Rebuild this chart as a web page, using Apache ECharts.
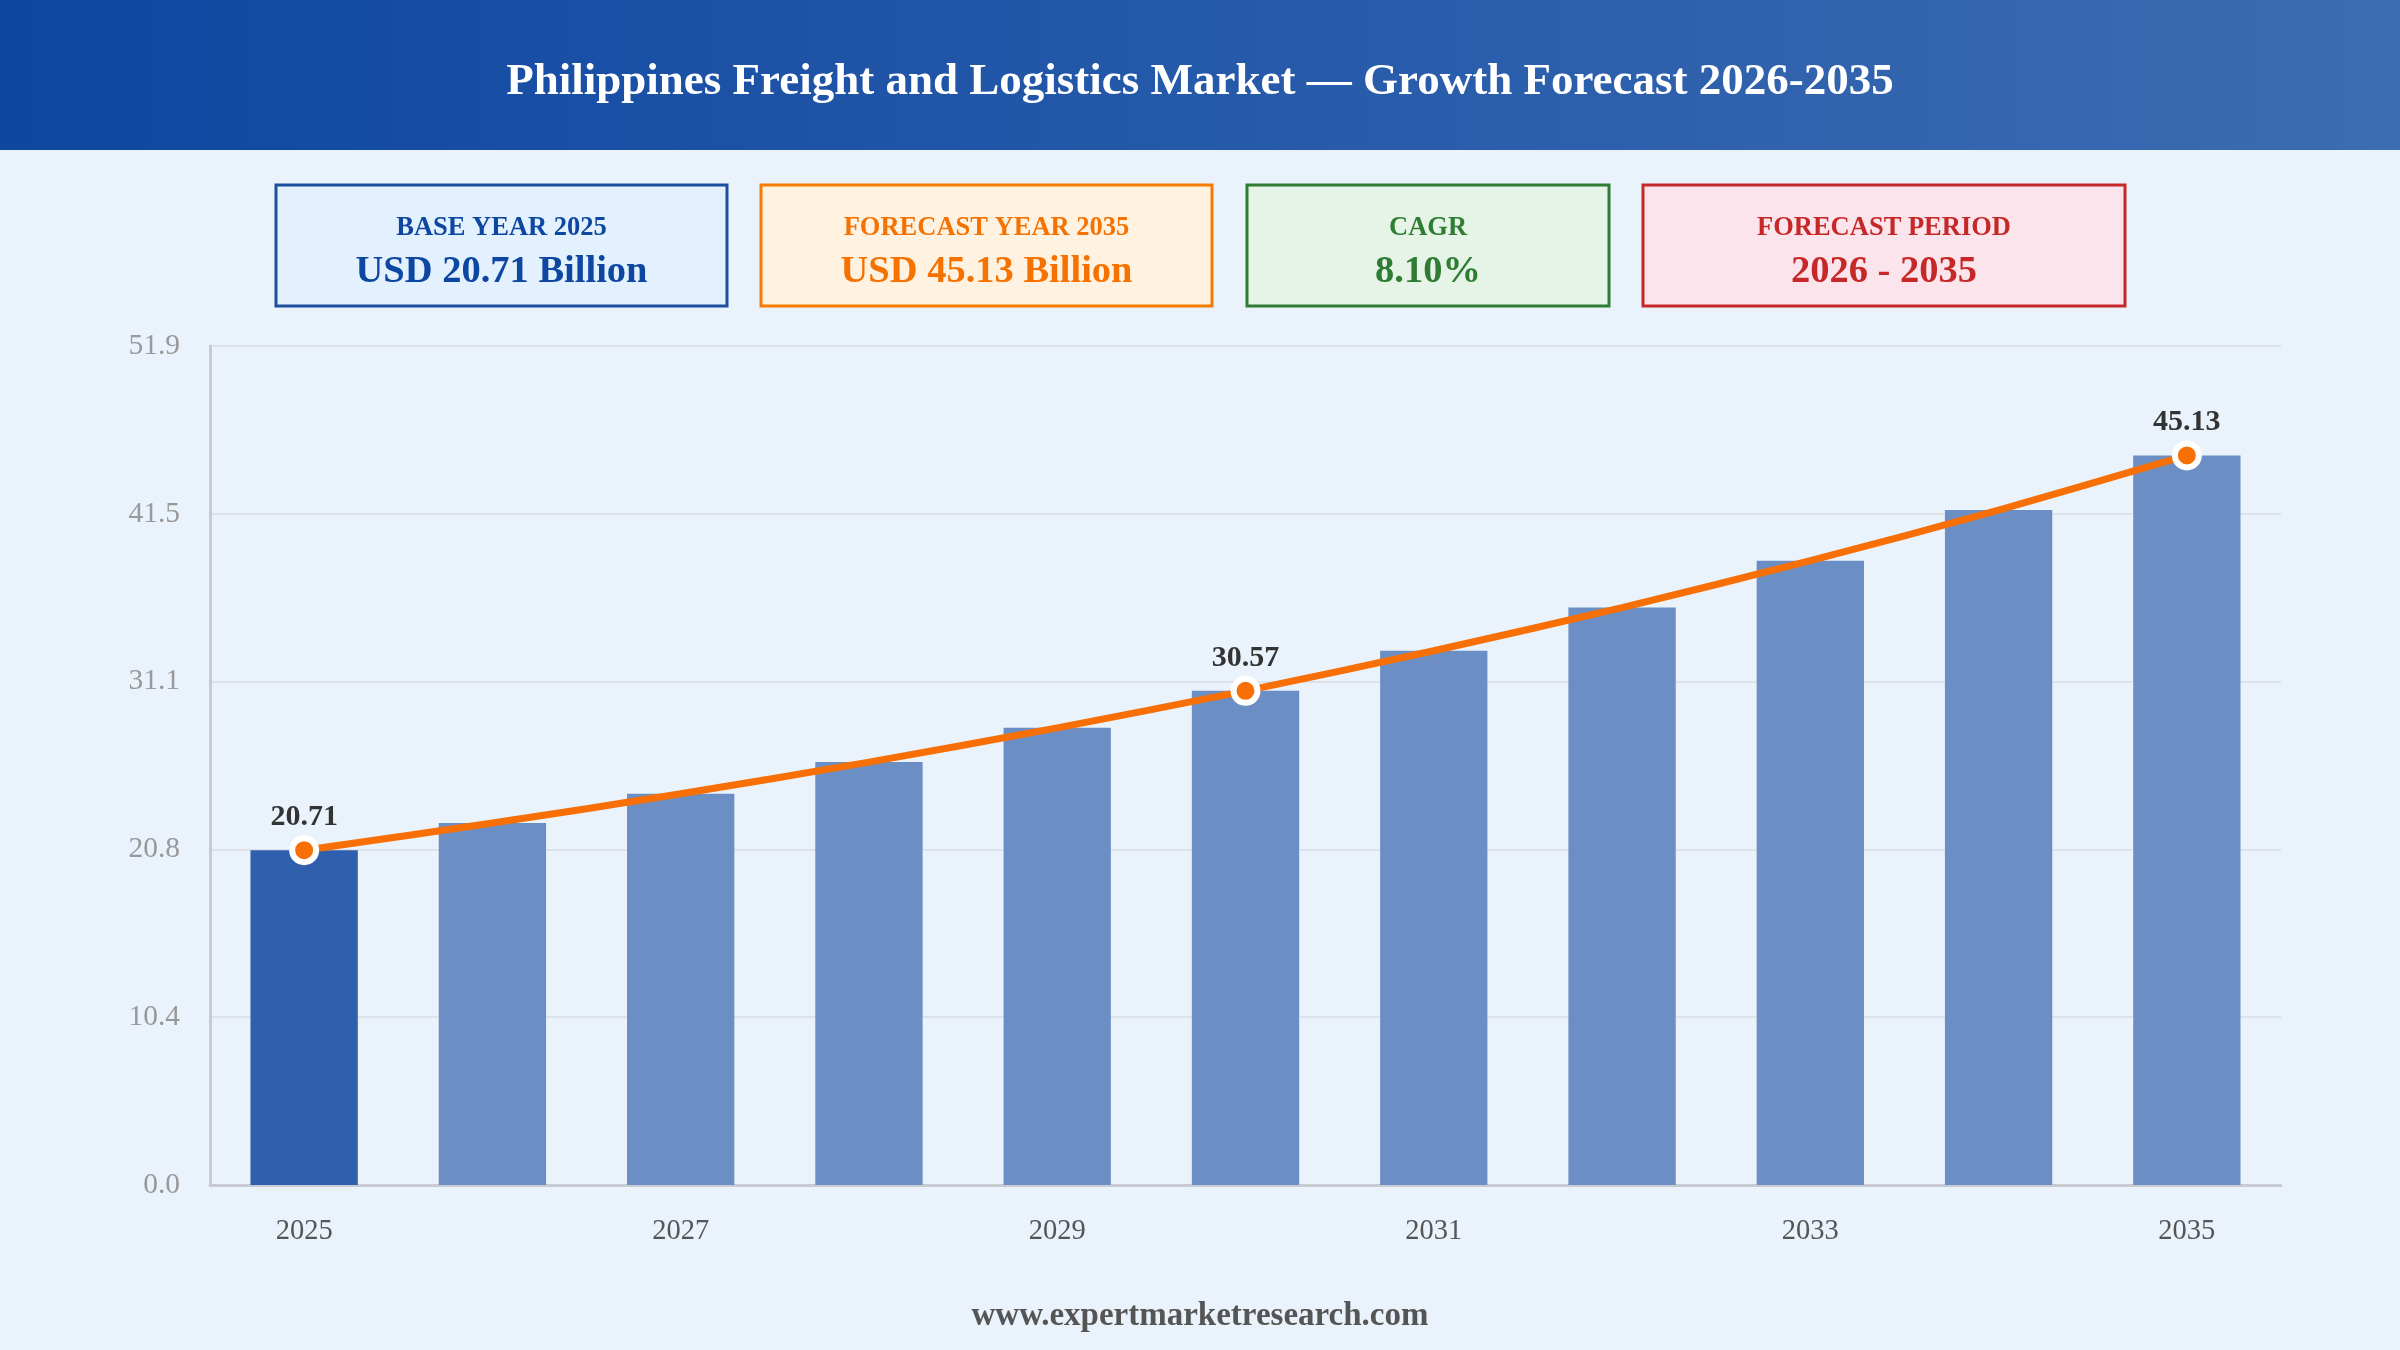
<!DOCTYPE html>
<html>
<head>
<meta charset="utf-8">
<script src="https://cdn.jsdelivr.net/npm/echarts@6/dist/echarts.min.js"></script>
<style>
html,body{margin:0;padding:0;background:#eaf2fc;}
#c{width:2400px;height:1350px;}
</style>
</head>
<body>
<div id="c"></div>
<script>
const categories = ['2025','2026','2027','2028','2029','2030','2031','2032','2033','2034','2035'];
const marketValues = [20.71, 22.39, 24.20, 26.16, 28.28, 30.57, 33.05, 35.72, 38.62, 41.75, 45.13];
const labelledIndices = [0, 5, 10];
const yTickLabels = ['0.0','10.4','20.8','31.1','41.5','51.9'];
const yMax = 51.9;
const titleText = 'Philippines Freight and Logistics Market \u2014 Growth Forecast 2026-2035';
const kpiLabels = ['BASE YEAR 2025','FORECAST YEAR 2035','CAGR','FORECAST PERIOD'];
const kpiValues = ['USD 20.71 Billion','USD 45.13 Billion','8.10%','2026 - 2035'];
const footerText = 'www.expertmarketresearch.com';

const SERIF = '"Times New Roman", "Liberation Serif", serif';
const kpiStyles = [
  {x:276, w:451, border:'#1c4f9e', fill:'#e3f0fd', color:'#0d47a1'},
  {x:761, w:451, border:'#f57c00', fill:'#fff2e0', color:'#f57200'},
  {x:1247, w:362, border:'#2e7d32', fill:'#e6f4e8', color:'#2e7d32'},
  {x:1643, w:482, border:'#c62828', fill:'#fbe4ec', color:'#c62828'}
];

const chart = echarts.init(document.getElementById('c'));

const graphics = [
  {type:'rect', left:0, top:0, z:0, shape:{width:2400, height:150},
   style:{fill:new echarts.graphic.LinearGradient(0,0,1,0,[{offset:0,color:'#0e46a0'},{offset:1,color:'#3c6cb2'}])}},
  {type:'text', x:1200, y:82, z:1, style:{text:titleText, fill:'#ffffff', font:'bold 45px ' + SERIF, textAlign:'center', textVerticalAlign:'middle'}},
  {type:'text', x:1200, y:1316, z:1, style:{text:footerText, fill:'#555555', font:'bold 33px ' + SERIF, textAlign:'center', textVerticalAlign:'middle'}}
];
kpiStyles.forEach((k, i) => {
  graphics.push({type:'rect', x:k.x, y:185, z:1, shape:{width:k.w, height:121},
    style:{fill:k.fill, stroke:k.border, lineWidth:3}});
  graphics.push({type:'text', x:k.x + k.w/2, y:228, z:2,
    style:{text:kpiLabels[i], fill:k.color, font:'bold 26.5px ' + SERIF, textAlign:'center', textVerticalAlign:'middle'}});
  graphics.push({type:'text', x:k.x + k.w/2, y:272, z:2,
    style:{text:kpiValues[i], fill:k.color, font:'bold 38.5px ' + SERIF, textAlign:'center', textVerticalAlign:'middle'}});
});

const barData = marketValues.map((v, i) => ({
  value: v,
  itemStyle: {color: i === 0 ? '#2f5fad' : '#6b8fc4'}
}));
const lineData = marketValues.map((v, i) => labelledIndices.includes(i)
  ? {value: v, symbol:'circle', symbolSize:24, label:{show:true}}
  : {value: v, symbol:'none'});

chart.setOption({
  backgroundColor:'#eaf2fc',
  animation:false,
  graphic: graphics,
  grid:{left:210, right:119, top:346, bottom:165, containLabel:false},
  xAxis:{
    type:'category', data:categories, boundaryGap:true,
    axisLine:{show:true, lineStyle:{color:'#c8ccd2', width:3}},
    axisTick:{show:false},
    axisLabel:{interval:1, color:'#555555', fontFamily:SERIF, fontSize:28.5, margin:32}
  },
  yAxis:{
    type:'value', min:0, max:yMax, interval:yMax/5,
    axisLine:{show:true, lineStyle:{color:'#c8ccd2', width:3}},
    axisTick:{show:false},
    splitLine:{show:true, lineStyle:{color:'#dde2e8', width:2}},
    axisLabel:{color:'#999999', fontFamily:SERIF, fontSize:29.5, margin:30, padding:[4,0,0,0],
      formatter:(v) => { const idx = Math.round(v / (yMax/5)); return yTickLabels[idx] !== undefined ? yTickLabels[idx] : v.toFixed(1); }}
  },
  series:[
    {type:'bar', data:barData, barWidth:'57%', z:2},
    {type:'line', data:lineData, smooth:0.3, z:3,
     lineStyle:{color:'#f87005', width:7},
     itemStyle:{color:'#f87005', borderColor:'#ffffff', borderWidth:6},
     label:{show:false, position:'top', distance:3, color:'#333333', fontFamily:SERIF, fontWeight:'bold', fontSize:30,
       formatter:(p) => p.value.toFixed(2)}}
  ]
});
</script>
</body>
</html>
